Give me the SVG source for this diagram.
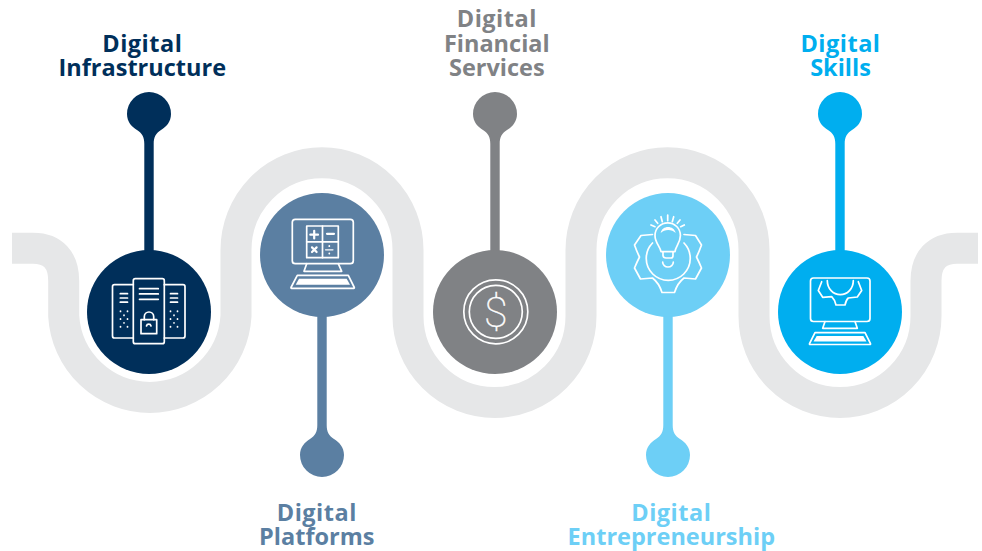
<svg xmlns="http://www.w3.org/2000/svg" width="982" height="551" viewBox="0 0 982 551">
<style>
.road{fill:none;stroke:#e6e7e8;stroke-width:31}
.ic{fill:none;stroke:#fff;stroke-width:1.7;stroke-linejoin:round;stroke-linecap:round}
.fw{fill:#fff;stroke:none}
.lb{font-family:"Open Sans","Noto Sans",sans-serif;font-weight:700;font-size:23.5px;text-anchor:middle}
.sp{letter-spacing:.5px}
.navy{fill:#002f5a}.steel{fill:#5b7fa2}.grey{fill:#808285}.sky{fill:#6dcff6}.cyan{fill:#00aeef}
</style>
<defs>
<path id="pin-down" d="M-22 0A22 22 0 0 1 22 0C22 8 17 13 12 16C7 19 4.700 23 4.700 30V146H-4.700V30C-4.700 23 -7 19 -12 16C-17 13 -22 8 -22 0Z"/>
<path id="pin-up" d="M-22 0A22 22 0 0 0 22 0C22 -8 17 -13 12 -16C7 -19 4.700 -23 4.700 -30V-146H-4.700V-30C-4.700 -23 -7 -19 -12 -16C-17 -13 -22 -8 -22 0Z"/>
</defs>
<g id="connectors">
<path id="road" class="road" d="M12 248.200H33C53 248.200 63.700 260 63.700 281V316A86.300 86.500 0 0 0 236 316V250A86 87.300 0 0 1 408 250V316A86.500 86.500 0 0 0 581 316V250A86.500 87.300 0 0 1 754 250V316A86 86.500 0 0 0 926 316V281C926 260 937 248.200 957 248.200H978"/>
</g>
<g id="node-infrastructure">
<use href="#pin-down" x="149" y="114" class="navy"/>
<circle cx="149" cy="312" r="62" class="navy"/>
<g class="ic">
<rect x="133.300" y="278.700" width="31" height="65" rx="2"/>
<path d="M133.300 284.700H114.500a2 2 0 0 0 -2 2V336a2 2 0 0 0 2 2H133.300M164.300 284.700H183a2 2 0 0 1 2 2V336a2 2 0 0 1 -2 2H164.300"/>
<path d="M139.500 288.700H158.300M139.500 293.900H158.300M139.500 299.300H158.300M120.300 293.700H127.500M120.300 298H127.500M120.300 302.200H127.500M170.500 293.700H177.500M170.500 298H177.500M170.500 302.200H177.500"/>
<rect x="141" y="319.700" width="15.700" height="14"/>
<path d="M144.300 319.700V316.700a4.700 4.700 0 0 1 9.400 0V319.700M146.500 326a2.300 2.300 0 0 1 4.500 0"/>
<path stroke-dasharray="0.500 7.250" d="M120.500 311V327M127.500 311V327M124 315V323M170.500 311V327M177.500 311V327M174 315V323"/>
</g>
</g>
<g id="node-platforms">
<use href="#pin-up" x="322" y="455" class="steel"/>
<circle cx="322" cy="255" r="62" class="steel"/>
<g class="ic">
<rect x="292.300" y="219.300" width="61" height="44.400" rx="3"/>
<rect x="306.700" y="226" width="31.600" height="31.700"/>
<path d="M322.500 226V257.700M306.700 241.800H338.300"/>
<path d="M306.700 263.700L304 271.300H341.700L338.300 263.700M297.300 275.300H348.300L354.300 287.500A.6 .6 0 0 1 353.800 288.300H291.500A.6 .6 0 0 1 291 287.500Z"/>
<path stroke-width="2.200" d="M310.300 234.700H318M314.200 230.800V238.500M327 233.800H334"/>
<path stroke-width="2.200" d="M312 247.400L316.600 252M316.600 247.400L312 252"/>
<path stroke-width="1.200" d="M325.500 249.800H333"/>
<path stroke-width="1.800" d="M329.300 246V246.200M329.300 253.400V253.600"/>
</g>
<path class="fw" d="M299 278.700H346.700L350 284.800H295.700Z"/>
</g>
<g id="node-financial">
<use href="#pin-down" x="495" y="114" class="grey"/>
<circle cx="495" cy="312" r="62" class="grey"/>
<circle cx="495.800" cy="311.800" r="32" class="ic"/>
<circle cx="495.800" cy="311.800" r="26.500" class="ic"/>
<text x="495.800" y="327" text-anchor="middle" font-family="Roboto,sans-serif" font-weight="100" font-size="43" fill="#fff" stroke="#fff" stroke-width=".4">$</text>
</g>
<g id="node-entrepreneurship">
<use href="#pin-up" x="668" y="455" class="sky"/>
<circle cx="668" cy="255" r="62" class="sky"/>
<g class="ic">
<path d="M652.500 234.500L641 235.500L634.500 245Q637 252 639.500 257Q637 262 634.500 268L640.500 279L652.500 278Q659 283 662 292.500H674.500Q677.500 283 684 278L695.500 279L701.500 268Q699 262 696.500 257Q699 252 701.500 245L695.500 235.500L684 234.500"/>
<path d="M652.500 243A22 22 0 1 0 684 243"/>
<path d="M661 251.700C660 246 655 243 655 235.500A12.700 12.700 0 0 1 680.400 235.500C680.400 243 675.700 246 675 251.700H661ZM663 251.700V255.500Q663.300 258 666 258H671Q673 258 673 255.500V251.700M662.700 262.200A5.300 4.800 0 0 0 673.300 262.200"/>
<path d="M651 225L655 226.700M655 220L657.700 223.300M661 216.700L662.300 221.700M667.700 215V220.700M673.700 216.700L672.300 221.700M680 220L677.300 223.300M684.300 225L680.700 226.700"/>
</g>
<path class="fw" d="M660.700 233C662 225 674 225 675.700 233C672 229 664.500 229 660.700 233Z"/>
</g>
<g id="node-skills">
<use href="#pin-down" x="840" y="114" class="cyan"/>
<circle cx="840" cy="312" r="62" class="cyan"/>
<g class="ic">
<rect x="810.500" y="278" width="59.500" height="43.500" rx="3"/>
<path d="M821.700 281.700L818.300 290.500L822.700 297.300L831.700 296.700Q835 300 836 305H845Q846 300 848.300 298L857.300 297L861.700 290.500L858.300 281.700"/>
<path d="M827.300 280.700A13 14 0 0 0 853.300 280.700"/>
<path d="M825 321.500L822.700 328.300H857.300L855 321.500M815 332.700H865L870.500 343.700A.6 .6 0 0 1 870 344.500H810A.6 .6 0 0 1 809.500 343.700Z"/>
</g>
<path class="fw" d="M816.700 336H863.300L866.500 341.500H813.500Z"/>
</g>
<g id="labels">
<text class="lb navy" id="label-infrastructure"><tspan class="sp" x="142.300" y="51.500">Digital</tspan><tspan x="142.300" y="76">Infrastructure</tspan></text>
<text class="lb grey" id="label-financial"><tspan class="sp" x="496.800" y="27">Digital</tspan><tspan x="496.800" y="51.500">Financial</tspan><tspan x="496.800" y="76">Services</tspan></text>
<text class="lb cyan" id="label-skills"><tspan class="sp" x="840.500" y="51.500">Digital</tspan><tspan x="840.500" y="76">Skills</tspan></text>
<text class="lb steel" id="label-platforms"><tspan class="sp" x="316.800" y="521">Digital</tspan><tspan x="316.800" y="545">Platforms</tspan></text>
<text class="lb sky" id="label-entrepreneurship"><tspan class="sp" x="671.300" y="521">Digital</tspan><tspan x="671.300" y="545">Entrepreneurship</tspan></text>
</g>
</svg>
